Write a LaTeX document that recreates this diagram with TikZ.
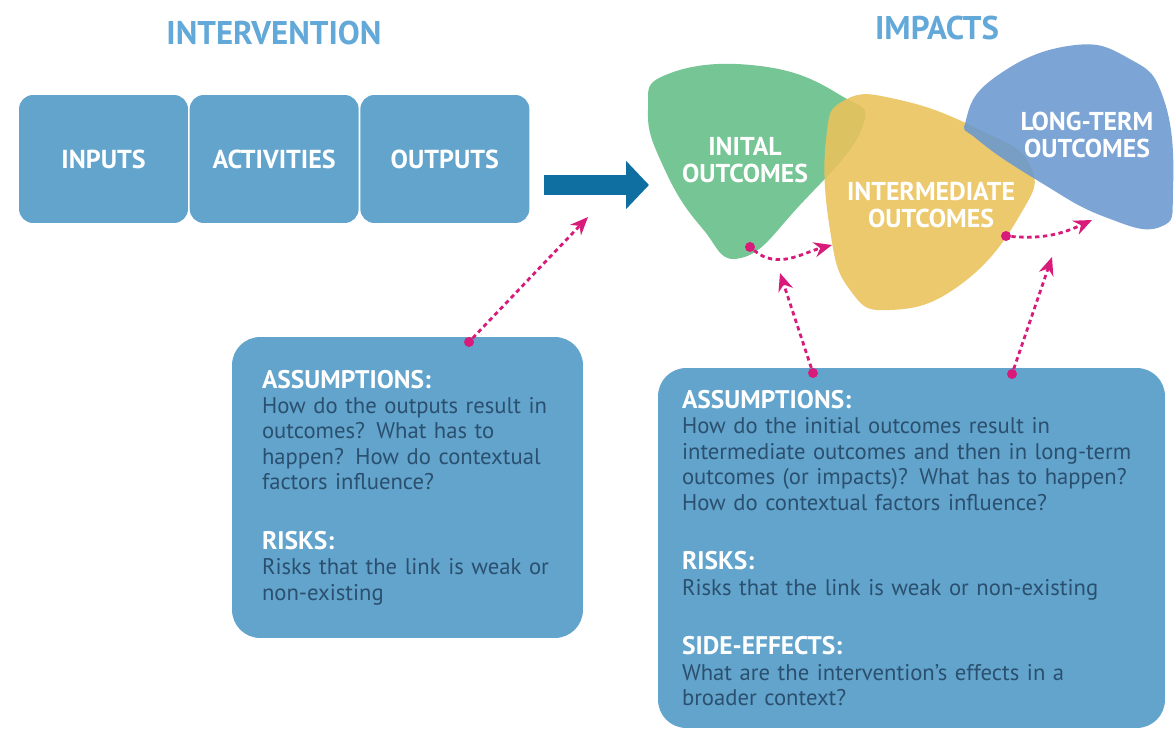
\documentclass[tikz,border=0pt]{standalone}
\usepackage{fontspec}
\setmainfont{PT Sans}
\usepackage{tikz}
\usetikzlibrary{arrows.meta, positioning}
\definecolor{stageblue}{HTML}{62A4CC}
\definecolor{titleblue}{HTML}{62A8D8}
\definecolor{flowblue}{HTML}{0F6FA0}
\definecolor{textdark}{HTML}{2B4F6E}
\definecolor{linkpink}{HTML}{D81B7A}
\definecolor{blobgreen}{HTML}{63BD86}
\definecolor{blobyellow}{HTML}{EBC25A}
\definecolor{blobblue}{HTML}{6A98D0}
\newcommand{\notehead}[1]{{\color{white}\bfseries\fontsize{14.5}{15}\selectfont #1}}

\begin{document}
\begin{tikzpicture}[x=0.02cm, y=-0.02cm,
  title/.style={font=\fontsize{18.7}{22}\selectfont\bfseries, text=titleblue},
  stage/.style={rectangle, fill=stageblue, rounded corners=8pt, minimum width=3.38cm, minimum height=2.56cm, inner sep=0pt, align=center, text=white, font=\fontsize{14.8}{17}\selectfont\bfseries},
  note/.style={rectangle, fill=stageblue, rounded corners=16pt, inner ysep=0pt, align=left, text=textdark, font=\fontsize{12.9}{14.5}\selectfont},
  bloblabel/.style={align=center, text=white, font=\fontsize{14.7}{15.5}\selectfont\bfseries},
  pdot/.style={circle, fill=linkpink, minimum size=0.2cm, inner sep=0pt},
  link/.style={draw=linkpink, line width=1.6pt, dash pattern=on 2.5pt off 2pt, -{Stealth[length=3.6mm, width=3mm]}},
  flow/.style={draw=flowblue, line width=0.4cm, -{Triangle[length=0.46cm, width=0.94cm]}}
]
  \useasboundingbox (0,0) rectangle (1174,730);

  % Titles
  \node[title] (intervention) at (274,33) {INTERVENTION};
  \node[title] (impacts) at (937,28) {IMPACTS};

  % Intervention stages
  \node[stage] (inputs) at (103.5,159) {INPUTS};
  \node[stage, right=0.02cm of inputs] (activities) {ACTIVITIES};
  \node[stage, right=0.02cm of activities] (outputs) {OUTPUTS};

  % Impact blobs
  \fill[blobgreen, opacity=0.88] plot[smooth cycle, tension=0.8] coordinates {(648,110) (668,74) (760,66) (840,95) (862,128) (800,205) (741,258) (702,228) (664,168)};
  \fill[blobyellow, opacity=0.88] plot[smooth cycle, tension=0.8] coordinates {(826,140) (845,100) (900,100) (980,130) (1030,165) (1020,215) (960,285) (890,310) (850,290) (830,230)};
  \fill[blobblue, opacity=0.88] plot[smooth cycle, tension=0.8] coordinates {(966,120) (994,78) (1068,46) (1128,58) (1164,100) (1173,190) (1160,227) (1105,217) (1040,182) (978,140)};
  \node[bloblabel] (initial) at (745,160) {INITAL\\OUTCOMES};
  \node[bloblabel] (intermediate) at (931,205) {INTERMEDIATE\\OUTCOMES};
  \node[bloblabel] (longterm) at (1087,135) {LONG-TERM\\OUTCOMES};

  % Main arrow
  \coordinate (flowend) at (649,185);
  \draw[flow] ([xshift=0.28cm]outputs.east |- flowend) -- (flowend);

  % Notes
  \node[note, minimum width=7.02cm, minimum height=6.02cm, inner xsep=0.6cm, text width=5.82cm] (leftnote) at (407.5,487.5) {\notehead{ASSUMPTIONS:}\\
    How do the outputs result in\\
    outcomes? What has to\\
    happen? How do contextual\\
    factors influence?\\[0.68cm]
    \notehead{RISKS:}\\
    Risks that the link is weak or\\
    non-existing};
  \node[note, minimum width=10.14cm, minimum height=7.2cm, inner xsep=0.48cm, text width=9.18cm] (rightnote) at (911.5,548) {\notehead{ASSUMPTIONS:}\\
    How do the initial outcomes result in\\
    intermediate outcomes and then in long-term\\
    outcomes (or impacts)? What has to happen?\\
    How do contextual factors influence?\\[0.68cm]
    \notehead{RISKS:}\\
    Risks that the link is weak or non-existing\\[0.68cm]
    \notehead{SIDE-EFFECTS:}\\
    What are the intervention's effects in a\\
    broader context?};

  % Links
  \node[pdot] (dotleft) at (469,342) {};
  \node[pdot] (dotmid) at (813,373) {};
  \node[pdot] (dotright) at (1012,374) {};
  \node[pdot] (dotgreen) at (750,247) {};
  \node[pdot] (dotyellow) at (1006,236) {};
  \coordinate (tipleft) at (588,217);
  \coordinate (tipmid) at (780,273);
  \coordinate (tipright) at (1052,257);
  \coordinate (tipgreen) at (832,245);
  \coordinate (tipyellow) at (1092,220);

  \draw[link] (dotleft) -- (tipleft);
  \draw[link] (dotmid) -- (tipmid);
  \draw[link] (dotright) -- (tipright);
  \draw[link] (dotgreen) to[out=-40, in=195] (tipgreen);
  \draw[link] (dotyellow) to[out=-5, in=205] (tipyellow);
\end{tikzpicture}
\end{document}
